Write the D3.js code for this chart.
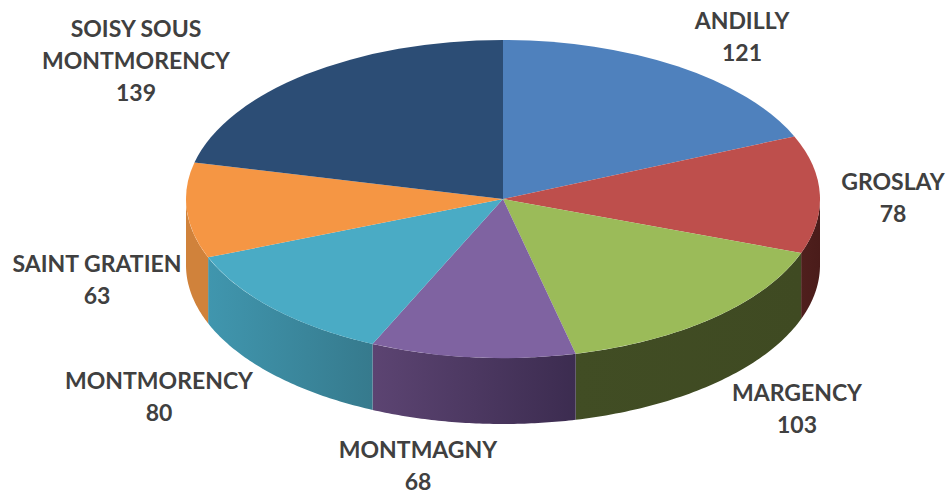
<!DOCTYPE html>
<html><head><meta charset="utf-8">
<script src="https://cdn.jsdelivr.net/npm/d3@7/dist/d3.min.js"></script>
<style>html,body{margin:0;padding:0;background:#fff;overflow:hidden}svg{display:block}</style>
</head><body><svg id="c" width="946" height="492"></svg>
<script>
const categories = ["ANDILLY","GROSLAY","MARGENCY","MONTMAGNY","MONTMORENCY","SAINT GRATIEN","SOISY SOUS MONTMORENCY"];
const values = [121,78,103,68,80,63,139];
const topColors = ["#4F81BD","#BE4F4C","#9BBB59","#7F63A1","#4AABC5","#F59644","#2C4D75"];
const wallLeft  = ["#3A5F8C","#4F1F1D","#414D24","#5C4472","#4096AE","#D0823B","#1F3655"];
const wallRight = ["#3A5F8C","#4A1C1A","#3F4A22","#3C2C50","#367A8D","#D0823B","#1F3655"];
const labelLines = [["ANDILLY"],["GROSLAY"],["MARGENCY"],["MONTMAGNY"],["MONTMORENCY"],["SAINT GRATIEN"],["SOISY SOUS","MONTMORENCY"]];
const labelCentre = [[742,21],[893,182],[797,393],[418,450],[159,381],[97,264],[136,29]];

const W=946,H=492,cx=503,cy=199,rx=317,ry=159,depth=66,lineH=32;
const svg=d3.select("#c");
const defs=svg.append("defs");
const pie=d3.pie().sort(null).value(d=>d)(values);
const xS=d3.scaleLinear().domain([-1,1]).range([cx-rx,cx+rx]);
const yS=d3.scaleLinear().domain([-1,1]).range([cy-ry,cy+ry]);

// side walls: only the front half of the ellipse is visible
const wall=d3.area().x(t=>xS(Math.sin(t))).y0(t=>yS(-Math.cos(t))).y1(t=>yS(-Math.cos(t))+depth);
pie.forEach((p,i)=>{
  const a=Math.max(p.startAngle,Math.PI/2), b=Math.min(p.endAngle,3*Math.PI/2);
  if(b<=a) return;
  const g=defs.append("linearGradient").attr("id","w"+i).attr("x1",0).attr("x2",1).attr("y1",0).attr("y2",0);
  g.append("stop").attr("offset",0).attr("stop-color",wallLeft[i]);
  g.append("stop").attr("offset",1).attr("stop-color",wallRight[i]);
  const n=60, ts=d3.range(n+1).map(k=>a+(b-a)*k/n);
  svg.append("path").attr("d",wall(ts)).attr("fill",`url(#w${i})`);
});

// top face: circular arc squashed into an ellipse
const arc=d3.arc().innerRadius(0).outerRadius(rx);
svg.append("g").attr("transform",`translate(${cx},${cy}) scale(1,${ry/rx})`)
  .selectAll("path").data(pie).join("path")
  .attr("d",arc).attr("fill",(d,i)=>topColors[i]);

// labels
const lab=svg.append("g").attr("font-family","Lato, 'Open Sans', sans-serif").attr("font-weight",700)
  .attr("font-size",23).attr("fill","#404040").attr("text-anchor","middle");
categories.forEach((c,i)=>{
  const lines=[...labelLines[i],String(values[i])];
  lines.forEach((t,k)=>lab.append("text").attr("x",labelCentre[i][0]).attr("y",labelCentre[i][1]+k*lineH)
    .attr("dy","0.35em").text(t));
});
</script></body></html>
